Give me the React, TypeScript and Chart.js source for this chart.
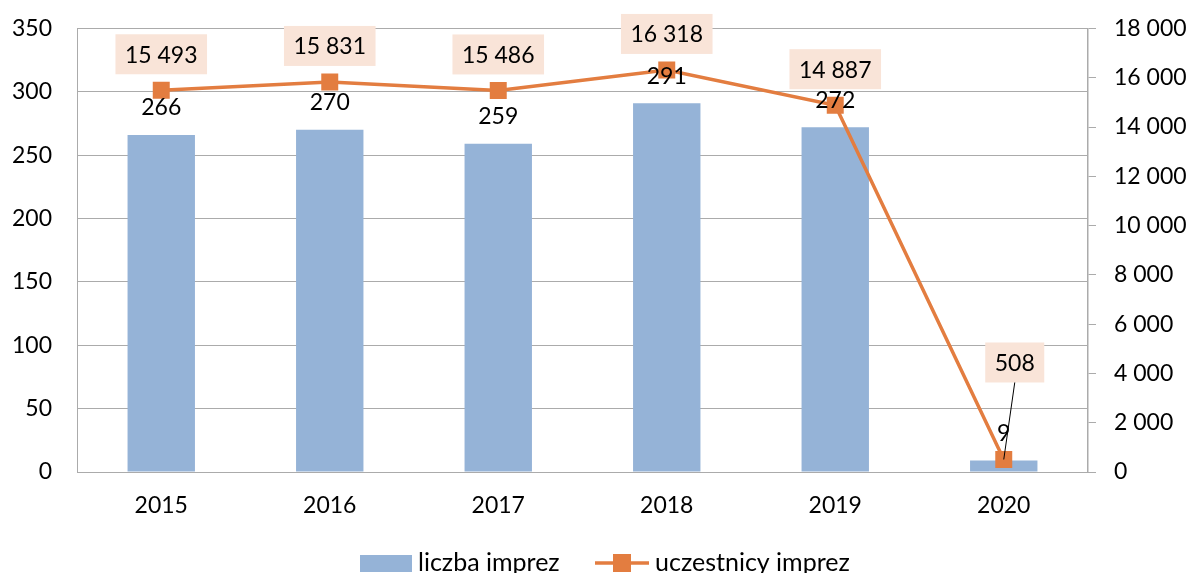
import React, { useEffect, useRef } from "react";
import { Chart, registerables } from "chart.js";

Chart.register(...registerables);

const years = ["2015", "2016", "2017", "2018", "2019", "2020"];
const eventCounts = [266, 270, 259, 291, 272, 9];
const participants = [15493, 15831, 15486, 16318, 14887, 508];
const leftTicks = [0, 50, 100, 150, 200, 250, 300, 350];
const rightTicks = [0, 2000, 4000, 6000, 8000, 10000, 12000, 14000, 16000, 18000];
const seriesNames = ["liczba imprez", "uczestnicy imprez"];

const FONT = "Lato, 'Noto Sans', sans-serif";
const BAR_COLOR = "#95B3D7";
const LINE_COLOR = "#E37D40";
const BOX_COLOR = "#F9E4D8";
const GRID_COLOR = "#ABABAB";

const fmt = (n: number) => String(n).replace(/\B(?=(\d{3})+(?!\d))/g, " ");

const labelPlugin = {
  id: "customLabels",
  afterDatasetsDraw(chart: any) {
    const ctx = chart.ctx;
    ctx.save();
    ctx.font = `23px ${FONT}`;
    ctx.textAlign = "center";
    ctx.textBaseline = "middle";
    ctx.fillStyle = "#000";
    const barMeta = chart.getDatasetMeta(0);
    barMeta.data.forEach((el: any, i: number) => {
      ctx.fillText(String(eventCounts[i]), el.x, el.y - 27);
    });
    const lineMeta = chart.getDatasetMeta(1);
    lineMeta.data.forEach((el: any, i: number) => {
      const text = fmt(participants[i]);
      const last = i === participants.length - 1;
      const cx = el.x + (last ? 11 : 0);
      const cy = el.y - (last ? 97 : 36);
      const w = ctx.measureText(text).width + 19;
      const h = 40;
      ctx.fillStyle = BOX_COLOR;
      ctx.fillRect(cx - w / 2, cy - h / 2, w, h);
      if (last) {
        ctx.strokeStyle = "#000";
        ctx.lineWidth = 1;
        ctx.beginPath();
        ctx.moveTo(cx, cy + h / 2);
        ctx.lineTo(el.x, el.y);
        ctx.stroke();
      }
      ctx.fillStyle = "#000";
      ctx.fillText(text, cx, cy + 1);
    });
    ctx.restore();
  },
  afterDraw(chart: any) {
    const ctx = chart.ctx;
    ctx.save();
    const y = 563;
    ctx.font = `25px ${FONT}`;
    ctx.textBaseline = "middle";
    ctx.textAlign = "left";
    ctx.fillStyle = BAR_COLOR;
    ctx.fillRect(360, y - 8, 52, 17);
    ctx.fillStyle = "#000";
    ctx.fillText(seriesNames[0], 418, y);
    ctx.strokeStyle = LINE_COLOR;
    ctx.lineWidth = 3.5;
    ctx.beginPath();
    ctx.moveTo(595, y);
    ctx.lineTo(649, y);
    ctx.stroke();
    ctx.fillStyle = LINE_COLOR;
    ctx.fillRect(613, y - 9, 18, 18);
    ctx.fillStyle = "#000";
    ctx.fillText(seriesNames[1], 655, y);
    ctx.restore();
  },
};

export default function App() {
  const ref = useRef<HTMLCanvasElement | null>(null);
  useEffect(() => {
    document.body.style.margin = "0";
    const chart = new Chart(ref.current as HTMLCanvasElement, {
      type: "bar",
      data: {
        labels: years,
        datasets: [
          {
            type: "bar",
            label: seriesNames[0],
            data: eventCounts,
            backgroundColor: BAR_COLOR,
            yAxisID: "y",
            categoryPercentage: 1,
            barPercentage: 0.4,
            order: 2,
          },
          {
            type: "line",
            label: seriesNames[1],
            data: participants,
            borderColor: LINE_COLOR,
            backgroundColor: LINE_COLOR,
            borderWidth: 3.5,
            pointStyle: "rect",
            pointRadius: 12,
            pointBorderWidth: 0,
            yAxisID: "y1",
            order: 1,
          } as any,
        ],
      },
      options: {
        animation: false,
        responsive: false,
        devicePixelRatio: 1,
        layout: { padding: { top: 28.5, left: 0, right: 0, bottom: 0 } },
        plugins: { legend: { display: false }, tooltip: { enabled: false } },
        scales: {
          x: {
            offset: true,
            grid: { drawOnChartArea: false, drawTicks: false },
            border: { display: true, color: GRID_COLOR, width: 1 },
            ticks: { color: "#000", font: { family: FONT, size: 23 }, padding: 20 },
            afterFit: (s: any) => { s.height = 101; },
          },
          y: {
            position: "left",
            min: 0,
            max: 350,
            afterBuildTicks: (s: any) => { s.ticks = leftTicks.map((v) => ({ value: v })); },
            grid: { color: GRID_COLOR, drawTicks: false, lineWidth: 1 },
            border: { display: true, color: GRID_COLOR, width: 1 },
            ticks: { color: "#000", font: { family: FONT, size: 23 }, padding: 25 },
            afterFit: (s: any) => { s.width = 77; s.paddingTop = 0; s.paddingBottom = 0; },
          },
          y1: {
            position: "right",
            min: 0,
            max: 18000,
            afterBuildTicks: (s: any) => { s.ticks = rightTicks.map((v) => ({ value: v })); },
            grid: { drawOnChartArea: false, drawTicks: true, tickLength: 8, color: GRID_COLOR },
            border: { display: true, color: GRID_COLOR, width: 1.5 },
            ticks: {
              color: "#000",
              font: { family: FONT, size: 23 },
              padding: 18,
              callback: (v: any) => fmt(Number(v)),
            },
            afterFit: (s: any) => { s.width = 102; s.paddingTop = 0; s.paddingBottom = 0; },
          },
        },
      },
      plugins: [labelPlugin],
    });
    return () => chart.destroy();
  }, []);
  return <canvas ref={ref} width={1190} height={573} style={{ display: "block" }} />;
}
